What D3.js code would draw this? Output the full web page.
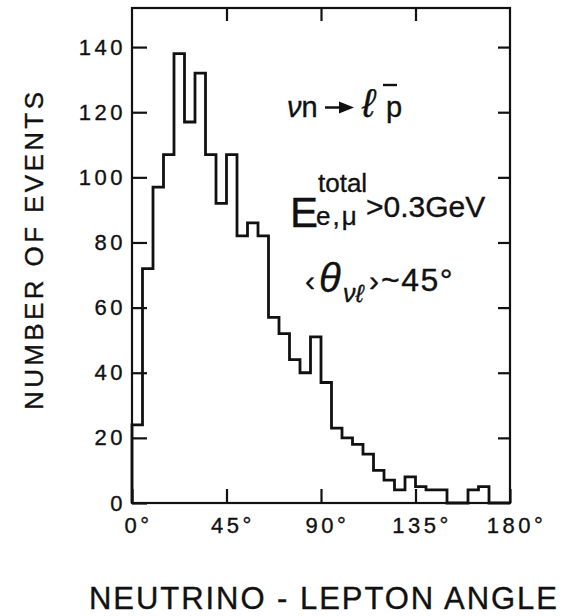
<!DOCTYPE html>
<html>
<head>
<meta charset="utf-8">
<script src="https://cdn.jsdelivr.net/npm/d3@7"></script>
<style>
  body { margin: 0; background: #fff; }
  svg text { font-family: "Liberation Sans", Arial, sans-serif; fill: #111; stroke: #111; stroke-width: 0.35px; }
</style>
</head>
<body>
<svg id="chart" width="563" height="616"></svg>
<script>
// histogram: 5 degree bins of the neutrino-lepton angle
const binStarts = [0, 5, 10, 15, 20, 25, 30, 35, 40, 45, 50, 55, 60, 65, 70, 75, 80, 85,
                   90, 95, 100, 105, 110, 115, 120, 125, 130, 135, 140, 145, 150, 155, 160, 165, 170, 175];
const counts = [24, 72, 97, 107, 138, 117, 132, 107, 92, 107, 82, 86, 82, 57, 52, 44, 40, 51,
                37, 23, 20, 18, 15, 10, 7, 4, 8, 5, 4, 4, 0, 0, 4, 5, 0, 0];

const yTicks = [0, 20, 40, 60, 80, 100, 120, 140];
const sideTicks = [20, 40, 60, 80, 100, 120, 140];
const xTicks = [0, 45, 90, 135, 180];
const xTickLabels = ["0°", "45°", "90°", "135°", "180°"];
const innerXTicks = [45, 90, 135];

const svg = d3.select("#chart");
const ink = "#111";

const x = d3.scaleLinear().domain([0, 180]).range([132, 510]);
const y = d3.scaleLinear().domain([0, 152]).range([503, 8]);

// frame
svg.append("rect")
   .attr("x", x.range()[0])
   .attr("y", y.range()[1])
   .attr("width", x.range()[1] - x.range()[0])
   .attr("height", y.range()[0] - y.range()[1])
   .attr("fill", "none")
   .attr("stroke", ink)
   .attr("stroke-width", 2.2);

// left axis, ticks pointing in
const gLeft = svg.append("g")
   .attr("transform", `translate(${x.range()[0]},0)`)
   .call(d3.axisLeft(y).tickValues(yTicks).tickSize(-15).tickPadding(6).tickFormat(d3.format("d")));

// right axis, no labels
const gRight = svg.append("g")
   .attr("transform", `translate(${x.range()[1]},0)`)
   .call(d3.axisRight(y).tickValues(sideTicks).tickSize(-12).tickFormat(""));

// bottom axis
const gBottom = svg.append("g")
   .attr("transform", `translate(0,${y.range()[0]})`)
   .call(d3.axisBottom(x).tickValues(xTicks).tickSize(-14).tickPadding(14)
           .tickFormat((d, i) => xTickLabels[i]));

// top axis, no labels
const gTop = svg.append("g")
   .attr("transform", `translate(0,${y.range()[1]})`)
   .call(d3.axisTop(x).tickValues(innerXTicks).tickSize(-13).tickFormat(""));

[gLeft, gRight, gBottom, gTop].forEach(g => {
  g.select(".domain").remove();
  g.selectAll(".tick line").attr("stroke", ink).attr("stroke-width", 2.2);
  g.selectAll("text")
   .attr("fill", ink)
   .style("font-size", "22px")
   .style("letter-spacing", "3.5px")
   .attr("font-family", null);
});
gBottom.selectAll("text").attr("dx", 6);

// histogram outline
const pts = [{a: 0, c: 0}];
binStarts.forEach((a, i) => pts.push({a: a, c: counts[i]}));
pts.push({a: x.domain()[1], c: 0});

const step = d3.line()
   .x(d => x(d.a))
   .y(d => y(d.c))
   .curve(d3.curveStepAfter);

svg.append("path")
   .datum(pts)
   .attr("d", step)
   .attr("fill", "none")
   .attr("stroke", ink)
   .attr("stroke-width", 2.8)
   .attr("stroke-linejoin", "miter");

// axis titles
svg.append("text")
   .attr("transform", "translate(43,251) rotate(-90)")
   .attr("text-anchor", "middle")
   .attr("textLength", 318)
   .attr("lengthAdjust", "spacing")
   .style("font-size", "26px")
   .text("NUMBER OF EVENTS");

svg.append("text")
   .attr("x", 89)
   .attr("y", 609)
   .attr("textLength", 468)
   .attr("lengthAdjust", "spacing")
   .style("font-size", "31px")
   .text("NEUTRINO - LEPTON ANGLE");

// annotation: reaction
const r = svg.append("text").attr("x", 287).attr("y", 117).style("font-size", "29px");
r.append("tspan").style("font-style", "italic").text("ν");
r.append("tspan").text("n");
svg.append("path")
   .attr("d", "M325,107.5 L342,107.5")
   .attr("stroke", ink).attr("stroke-width", 2.5);
svg.append("path")
   .attr("d", "M339,101.5 L354,107.5 L339,113.5 Z")
   .attr("fill", ink);
svg.append("text").attr("x", 362).attr("y", 117)
   .style("font-size", "40px").style("font-style", "italic").text("ℓ");
svg.append("text").attr("x", 386).attr("y", 117)
   .style("font-size", "29px").text("p");
svg.append("path")
   .attr("d", "M383,85 L397,85")
   .attr("stroke", ink).attr("stroke-width", 2.4);

// annotation: energy cut
svg.append("text").attr("x", 290).attr("y", 227).style("font-size", "42px").text("E");
svg.append("text").attr("x", 318).attr("y", 192).style("font-size", "26px").text("total");
svg.append("text").attr("x", 316).attr("y", 225).style("font-size", "26px")
   .style("letter-spacing", "2px").text("e,μ");
svg.append("text").attr("x", 366).attr("y", 217).style("font-size", "30px").text(">0.3GeV");

// annotation: mean angle
svg.append("text").attr("x", 305).attr("y", 291).style("font-size", "30px").text("‹");
svg.append("text").attr("x", 319).attr("y", 292).style("font-size", "40px")
   .style("font-style", "italic").text("θ");
svg.append("text").attr("x", 343).attr("y", 302).style("font-size", "25px")
   .style("font-style", "italic").text("νℓ");
svg.append("text").attr("x", 369).attr("y", 291).style("font-size", "30px").text("›");
svg.append("text").attr("x", 381).attr("y", 291).style("font-size", "32px")
   .style("letter-spacing", "1.5px").text("~45°");
</script>
</body>
</html>
